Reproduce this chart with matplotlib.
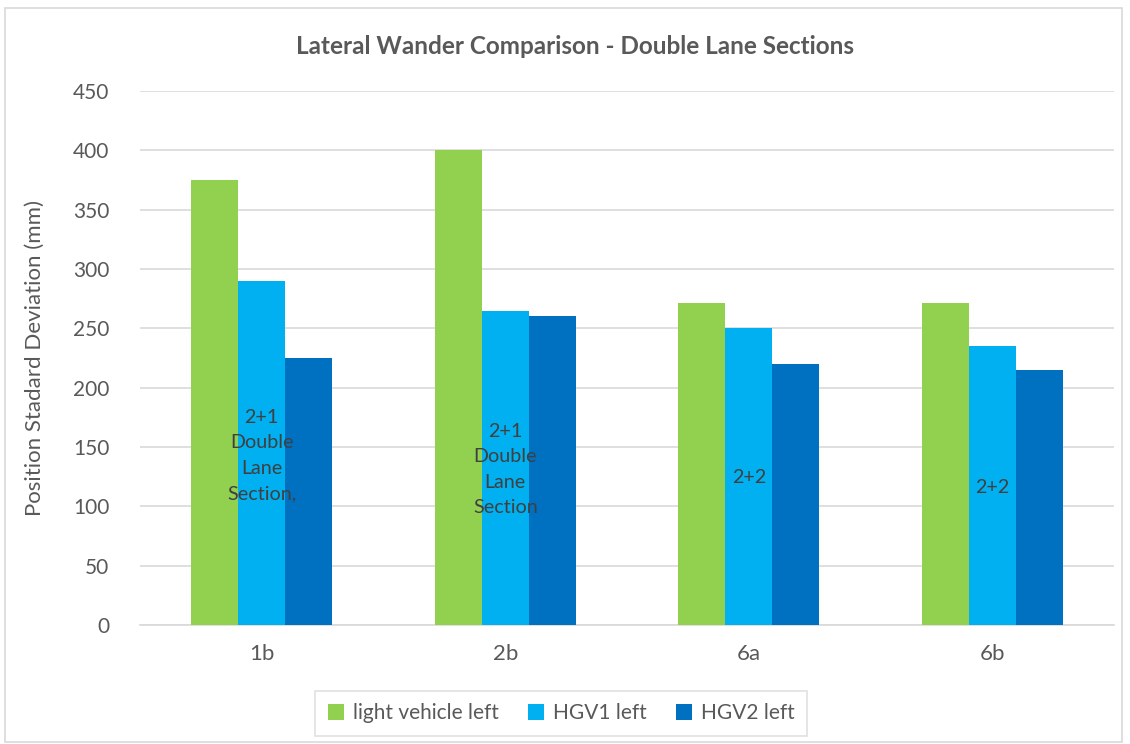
import matplotlib
matplotlib.use("Agg")
import matplotlib.pyplot as plt
import numpy as np
from matplotlib.patches import Rectangle

categories = ["1b", "2b", "6a", "6b"]
series_names = ["light vehicle left", "HGV1 left", "HGV2 left"]
light_vehicle = [375, 400, 271, 271]
hgv1 = [290, 265, 250, 235]
hgv2 = [225, 260, 220, 215]
annotations = ["2+1\nDouble\nLane\nSection,", "2+1\nDouble\nLane\nSection", "2+2", "2+2"]
annotation_y = [143, 131, 124, 116]
yticks = [0, 50, 100, 150, 200, 250, 300, 350, 400, 450]

colors = ["#92D050", "#00B0F0", "#0070C0"]
plt.rcParams['font.family'] = ['Lato', 'DejaVu Sans']

fig = plt.figure(figsize=(11.3, 7.44), dpi=100)
W, H = 1130, 744
ax = fig.add_axes([140 / W, 1 - 625 / H, (1114 - 140) / W, (625 - 91) / H])

# outer chart border
fig.patches.append(Rectangle((5 / W, 2 / H), (1122 - 5) / W, (736 - 2) / H,
                             transform=fig.transFigure, fill=False,
                             edgecolor="#d9d9d9", linewidth=1.2))

x = np.arange(len(categories))
bw = 0.193
for i, (vals, c, name) in enumerate(zip([light_vehicle, hgv1, hgv2], colors, series_names)):
    ax.bar(x + (i - 1) * bw, vals, width=bw, color=c, label=name, zorder=3)

for xi, txt, yv in zip(x, annotations, annotation_y):
    ax.text(xi, yv, txt, ha="center", va="center", fontsize=14.2, color="#404040",
            linespacing=1.6, zorder=4)

ax.set_xlim(-0.5, len(categories) - 0.5)
ax.set_ylim(0, 450)
ax.set_yticks(yticks)
ax.set_xticks(x)
ax.set_xticklabels(categories, fontsize=16, color="#595959")
ax.tick_params(axis="y", labelsize=15, colors="#595959", length=0, pad=22)
ax.tick_params(axis="x", length=0, pad=14)
ax.grid(axis="y", color="#d9d9d9", linewidth=1.2, zorder=0)
for s in ["top", "right", "left"]:
    ax.spines[s].set_visible(False)
ax.spines["bottom"].set_color("#d9d9d9")
ax.spines["bottom"].set_linewidth(1.2)

ax.set_ylabel("Position Stadard Deviation (mm)", fontsize=16, color="#595959", labelpad=20)
fig.text(575 / W, 1 - 46 / H, "Lateral Wander Comparison - Double Lane Sections",
         ha="center", va="center", fontsize=17.5, fontweight="bold", color="#595959")

leg = fig.legend(loc="center", bbox_to_anchor=(561 / W, 1 - 713 / H), ncol=3,
                 fontsize=15, frameon=True, fancybox=False, edgecolor="#d9d9d9",
                 handlelength=0.8, handleheight=0.8, handletextpad=0.4,
                 columnspacing=1.4, borderpad=0.6)
for t in leg.get_texts():
    t.set_color("#595959")
leg.get_frame().set_linewidth(1.2)

fig.savefig("out.png", dpi=100)
